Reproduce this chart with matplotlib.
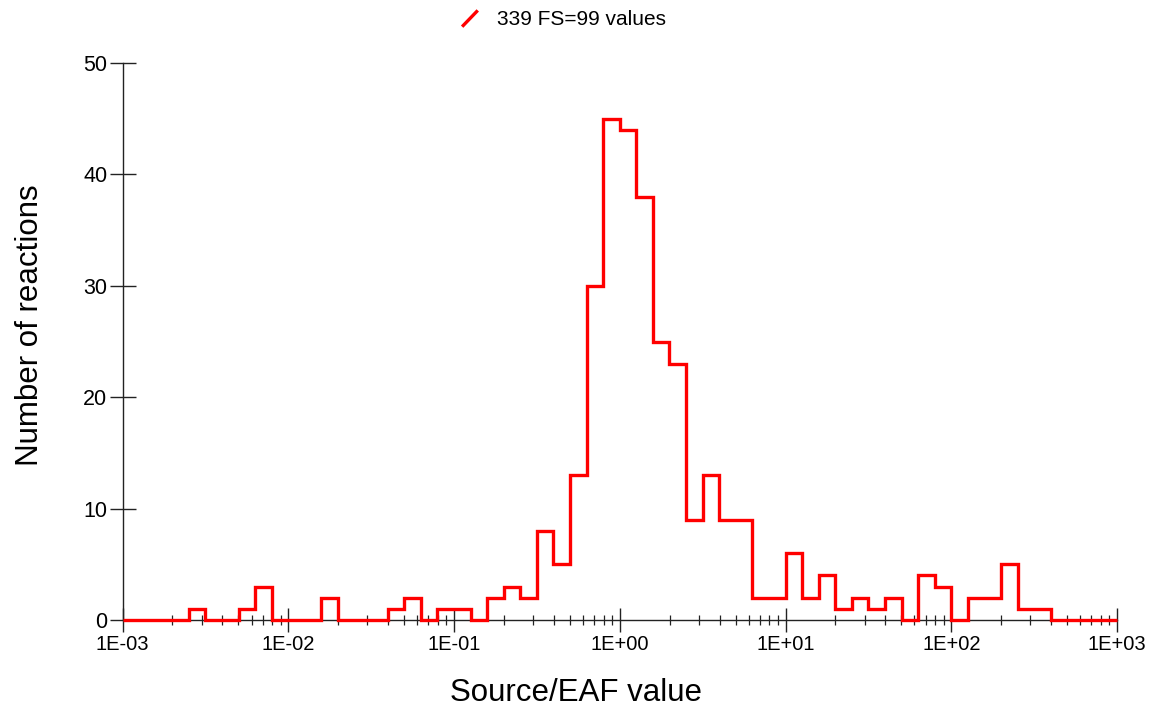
import numpy as np
import matplotlib
matplotlib.use("Agg")
import matplotlib.pyplot as plt
from matplotlib.lines import Line2D
from matplotlib.legend_handler import HandlerLine2D
from matplotlib.ticker import FixedLocator, FixedFormatter, LogLocator, NullFormatter

plt.rcParams["font.family"] = ["Liberation Sans", "DejaVu Sans"]

# Histogram of Source/EAF ratios: 10 logarithmic bins per decade, 1E-03 .. 1E+03
bin_edges_exp = np.arange(-30, 31) / 10.0
counts = [0, 0, 0, 0, 1, 0, 0, 1, 3, 0,
          0, 0, 2, 0, 0, 0, 1, 2, 0, 1,
          1, 0, 2, 3, 2, 8, 5, 13, 30, 45,
          44, 38, 25, 23, 9, 13, 9, 9, 2, 2,
          6, 2, 4, 1, 2, 1, 2, 0, 4, 3,
          0, 2, 2, 5, 1, 1, 0, 0, 0, 0]
legend_label = "339 FS=99 values"
x_tick_values = [1e-3, 1e-2, 1e-1, 1e0, 1e1, 1e2, 1e3]
x_tick_labels = ["1E-03", "1E-02", "1E-01", "1E+00", "1E+01", "1E+02", "1E+03"]
y_ticks = [0, 10, 20, 30, 40, 50]

edges = 10.0 ** bin_edges_exp

fig = plt.figure(figsize=(11.55, 7.13), dpi=100)
ax = fig.add_axes([0.1061, 0.1304, 0.8610, 0.7812])

ax.stairs(counts, edges, baseline=None, color="#ff0000", linewidth=2.4,
          clip_on=False, zorder=5)

ax.set_xscale("log")
ax.set_xlim(1e-3, 1e3)
ax.set_ylim(0, 50)

ax.xaxis.set_major_locator(FixedLocator(x_tick_values))
ax.xaxis.set_major_formatter(FixedFormatter(x_tick_labels))
ax.xaxis.set_minor_locator(LogLocator(base=10, subs=np.arange(2, 10)))
ax.xaxis.set_minor_formatter(NullFormatter())
ax.set_yticks(y_ticks)

for s in ("top", "right"):
    ax.spines[s].set_visible(False)
for s in ("left", "bottom"):
    ax.spines[s].set_color("#222222")
    ax.spines[s].set_linewidth(1.0)

ax.tick_params(axis="x", which="major", direction="inout", length=17.5, width=1.0,
               color="#222222", labelsize=14.5, pad=2)
ax.tick_params(axis="x", which="minor", direction="inout", length=7.5, width=0.9,
               color="#222222")
ax.tick_params(axis="y", which="major", direction="inout", length=19, width=1.0,
               color="#222222", labelsize=15.5, pad=1.5)

ax.set_xlabel("Source/EAF value", fontsize=22.5)
ax.set_ylabel("Number of reactions", fontsize=22.5)
ax.xaxis.set_label_coords(0.4557, -0.131)
ax.yaxis.set_label_coords(-0.093, 0.5296)
ax.xaxis.label.set_verticalalignment("center")
ax.yaxis.label.set_verticalalignment("center")


class SlashHandler(HandlerLine2D):
    def create_artists(self, legend, orig_handle, xdescent, ydescent,
                       width, height, fontsize, trans):
        seg = Line2D([width * 0.35, width * 0.75], [0.0, 0.95 * height],
                     color=orig_handle.get_color(),
                     linewidth=orig_handle.get_linewidth())
        seg.set_transform(trans)
        return [seg]


proxy = Line2D([], [], color="#ff0000", linewidth=2.4)
fig.legend([proxy], [legend_label], loc="center", bbox_to_anchor=(0.484, 0.972),
           frameon=False, fontsize=15, handler_map={Line2D: SlashHandler()},
           handlelength=1.6, handletextpad=0.6)

fig.savefig("out.png", dpi=100)
